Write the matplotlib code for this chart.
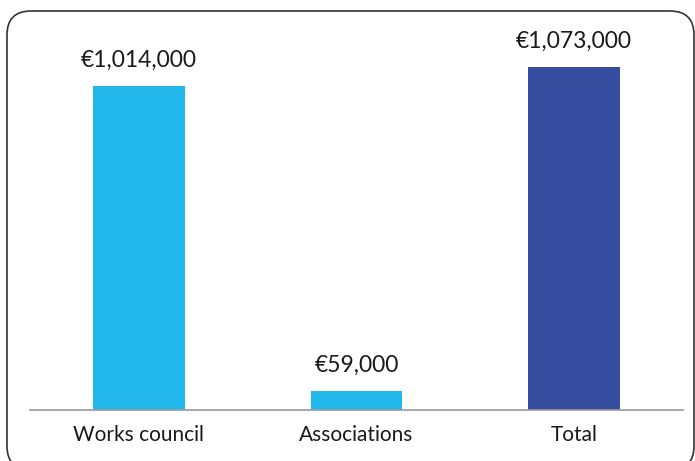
import matplotlib
matplotlib.use("Agg")
import matplotlib.pyplot as plt
from matplotlib.patches import FancyBboxPatch

categories = ["Works council", "Associations", "Total"]
values = [1014000, 59000, 1073000]
labels = ["€1,014,000", "€59,000", "€1,073,000"]
colors = ["#22B8EB", "#22B8EB", "#374EA0"]

plt.rcParams["font.family"] = ["Lato", "DejaVu Sans"]

fig = plt.figure(figsize=(6.95, 4.61), dpi=100)
# axes placed in pixel terms: left 30, right 683, bottom 410 (from top), top 20
W, H = 695, 461
ax = fig.add_axes([30 / W, (H - 410) / H, 653 / W, 390 / H])

x = range(len(categories))
ax.bar(x, values, width=0.42, color=colors)
for i, v in enumerate(values):
    ax.annotate(labels[i], (i, v), xytext=(0, 11), textcoords="offset points",
                ha="center", va="bottom", fontsize=16.5, color="#1a1a1a")

ax.set_xlim(-0.5, 2.5)
ax.set_ylim(0, 1220000)
ax.set_xticks(list(x))
ax.set_xticklabels(categories, fontsize=15, color="#1a1a1a")
ax.tick_params(axis="x", length=0, pad=11)
ax.set_yticks([])
for s in ["top", "right", "left"]:
    ax.spines[s].set_visible(False)
ax.spines["bottom"].set_color("#9a9a9a")
ax.spines["bottom"].set_linewidth(1.2)

# rounded frame around the chart
frame = FancyBboxPatch((7, H - 470), 687, 459, boxstyle="round,pad=0,rounding_size=24",
                       transform=None, fill=False, edgecolor="#333333", linewidth=1.2)
fig.patches.append(frame)

fig.savefig("out.png", dpi=100)
